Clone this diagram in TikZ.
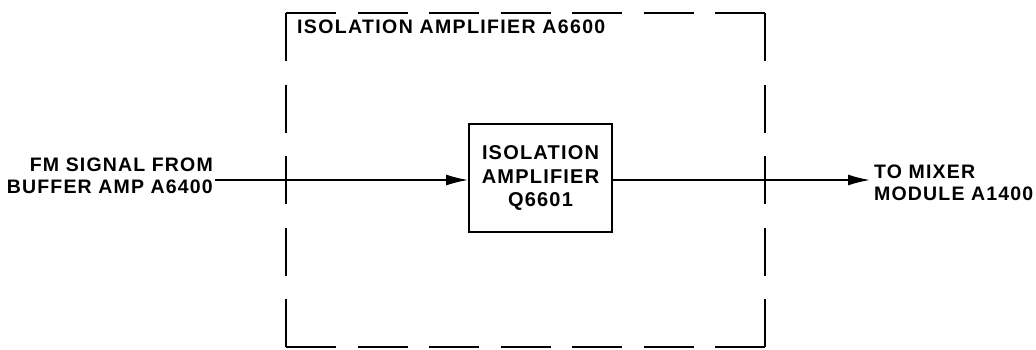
\documentclass[tikz,border=0pt]{standalone}
\usepackage{fontspec}
\setmainfont{Liberation Sans}
\newfontfamily\lblfont[LetterSpace=6]{Liberation Sans}
\newfontfamily\ttlfont[LetterSpace=7]{Liberation Sans}
\usetikzlibrary{arrows.meta}
\begin{document}
\begin{tikzpicture}[x=1pt,y=-1pt,
  lbl/.style={font=\lblfont\bfseries\fontsize{19.5}{21.5}\selectfont, inner sep=0pt, align=left},
  wire/.style={line width=1.6pt, -{Latex[length=22pt,width=11pt]}},
  vside/.style={line width=1.8pt, dash pattern=on 48pt off 23.5pt},
  hside/.style={line width=1.8pt, dash pattern=on 50pt off 21.5pt},
  blk/.style={draw, line width=1.8pt, minimum width=143pt, minimum height=108pt, align=center,
    font=\lblfont\bfseries\fontsize{20}{23.5}\selectfont, inner sep=0pt}]
\useasboundingbox (0,0) rectangle (1036,349);
\coordinate (tl) at (286,13);
\coordinate (tr) at (765,13);
\coordinate (bl) at (286,347);
\coordinate (br) at (765,347);
\draw[hside] (tl) -- (tr);
\draw[hside] (bl) -- (br);
\draw[vside] (tl) -- (bl);
\draw[vside] (tr) -- (br);
\node[lbl, anchor=west, font=\ttlfont\bfseries\fontsize{19.5}{22}\selectfont] (title) at (297,27) {ISOLATION AMPLIFIER A6600};
\node[blk] (amp) at (540.5,178) {ISOLATION\\AMPLIFIER\\Q6601};
\node[lbl, anchor=east, align=right] (src) at (213,176) {FM SIGNAL FROM\\BUFFER AMP A6400};
\node[lbl, anchor=west] (dst) at (874,183) {TO MIXER\\MODULE A1400};
\coordinate (srcend) at (215,180);
\coordinate (dstend) at (870,180);
\draw[wire] (srcend) -- (srcend -| amp.west);
\draw[wire] (amp.east |- dstend) -- (dstend);
\end{tikzpicture}
\end{document}
